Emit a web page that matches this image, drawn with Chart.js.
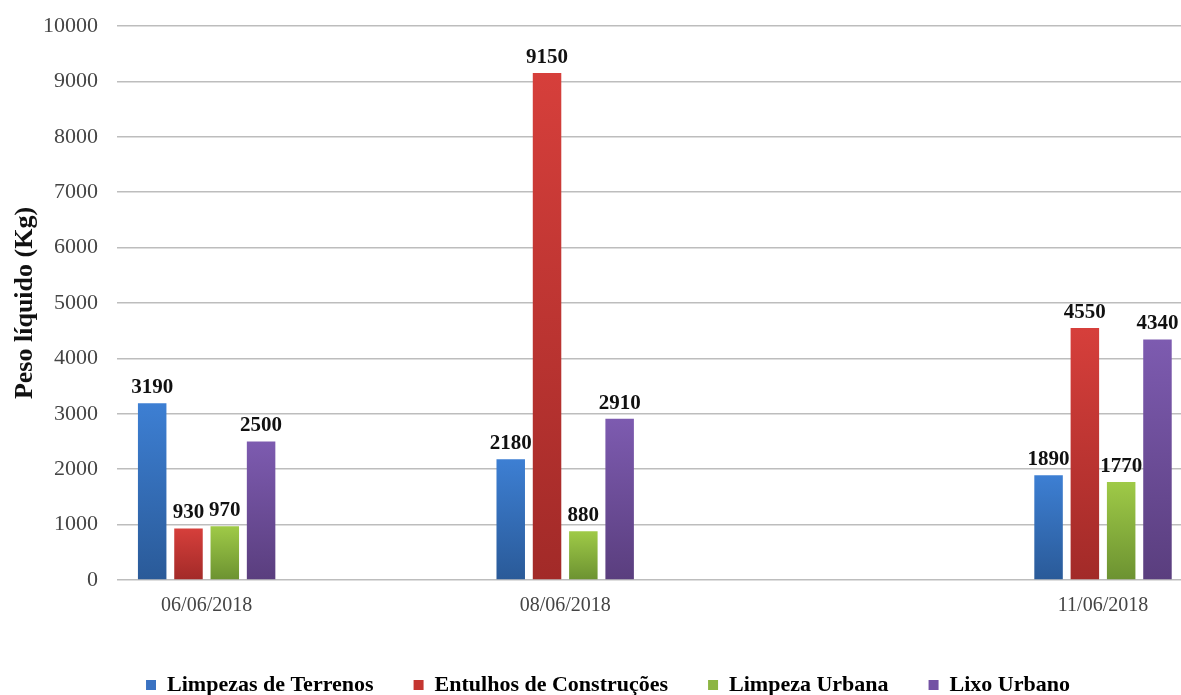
<!DOCTYPE html>
<html>
<head>
<meta charset="utf-8">
<script src="https://cdn.jsdelivr.net/npm/chart.js@4.4.1/dist/chart.umd.min.js"></script>
<style>
  html, body { margin: 0; padding: 0; background: #ffffff; }
  #wrap { width: 1181px; height: 695px; }
</style>
</head>
<body>
<div id="wrap"><canvas id="c" width="1181" height="695"></canvas></div>
<script>
// ---- Data ----
const dates = ['06/06/2018', '08/06/2018', '11/06/2018'];
const seriesNames = ['Limpezas de Terrenos', 'Entulhos de Construções', 'Limpeza Urbana', 'Lixo Urbano'];
const limpezasTerrenos = [3190, 2180, 1890];
const entulhosConstrucoes = [930, 9150, 4550];
const limpezaUrbana = [970, 880, 1770];
const lixoUrbano = [2500, 2910, 4340];
const yTicks = [0, 1000, 2000, 3000, 4000, 5000, 6000, 7000, 8000, 9000, 10000];

// ---- Styles ----
const topColors = ['#3d7fd3', '#d63f3b', '#9fca47', '#7d5bb0'];
const bottomColors = ['#2a5a98', '#a22a28', '#6c9231', '#5a3e7e'];
const legendColors = ['#3a72c2', '#c43631', '#8cb542', '#7352a4'];
const SERIF = '"Liberation Serif", "Times New Roman", serif';
const PAD_LEFT = 11;

const dayOf = d => parseInt(d.slice(0, 2), 10);
const days = dates.map(dayOf);
const allSeries = [limpezasTerrenos, entulhosConstrucoes, limpezaUrbana, lixoUrbano];

function gradFill(i) {
  return function (ctx) {
    const chart = ctx.chart;
    const area = chart.chartArea;
    if (!area || ctx.type !== 'data') return legendColors[i];
    const y = chart.scales.y;
    const v = ctx.raw && typeof ctx.raw === 'object' ? ctx.raw.y : ctx.raw;
    const yTop = y.getPixelForValue(v);
    const yBot = y.getPixelForValue(0);
    if (!isFinite(yTop) || yBot - yTop < 1) return legendColors[i];
    const g = chart.ctx.createLinearGradient(0, yTop, 0, yBot);
    g.addColorStop(0, topColors[i]);
    g.addColorStop(1, bottomColors[i]);
    return g;
  };
}

const datasets = allSeries.map((vals, i) => ({
  label: seriesNames[i],
  data: vals.map((v, k) => ({ x: days[k], y: v })),
  backgroundColor: gradFill(i),
  borderWidth: 0,
  categoryPercentage: 0.405,
  barPercentage: 0.785
}));

const valueLabels = {
  id: 'valueLabels',
  afterDatasetsDraw(chart) {
    const ctx = chart.ctx;
    ctx.save();
    ctx.font = 'bold 21px ' + SERIF;
    ctx.fillStyle = '#111111';
    ctx.textAlign = 'center';
    ctx.textBaseline = 'bottom';
    chart.data.datasets.forEach((ds, i) => {
      const meta = chart.getDatasetMeta(i);
      meta.data.forEach((el, k) => {
        ctx.fillText(String(ds.data[k].y), el.x, el.y - 5);
      });
    });
    ctx.restore();
  }
};

const legendTweak = {
  id: 'legendTweak',
  beforeInit(chart) {
    const lg = chart.legend;
    if (!lg) return;
    const orig = lg.fit.bind(lg);
    lg.fit = function () {
      orig();
      this.height = 61;
    };
  },
  afterLayout(chart) {
    const lg = chart.legend;
    if (!lg) return;
    lg.left += 12;
    lg.right += 12;
  }
};

new Chart(document.getElementById('c'), {
  type: 'bar',
  data: { datasets },
  plugins: [valueLabels, legendTweak],
  options: {
    responsive: false,
    animation: false,
    layout: { padding: { left: PAD_LEFT, top: 26, right: 0, bottom: 0 } },
    plugins: {
      tooltip: { enabled: false },
      legend: {
        position: 'bottom',
        labels: {
          boxWidth: 10,
          boxHeight: 10,
          padding: 40,
          color: '#111111',
          font: { family: SERIF, size: 22, weight: 'bold' },
          generateLabels(chart) {
            return chart.data.datasets.map((ds, i) => ({
              text: ds.label,
              fillStyle: legendColors[i],
              strokeStyle: legendColors[i],
              lineWidth: 0,
              hidden: false,
              datasetIndex: i
            }));
          }
        }
      }
    },
    scales: {
      x: {
        type: 'linear',
        offset: false,
        min: 5.5,
        max: 11.435,
        grid: { display: false },
        border: { display: false },
        afterBuildTicks(scale) {
          scale.ticks = days.map(d => ({ value: d }));
        },
        afterFit(scale) { scale.height = 54; },
        ticks: {
          padding: 6,
          color: '#444444',
          autoSkip: false,
          maxRotation: 0,
          font: { family: SERIF, size: 20 },
          callback(v) {
            const idx = days.indexOf(v);
            return idx >= 0 ? dates[idx] : '';
          }
        }
      },
      y: {
        min: 0,
        max: 10000,
        afterBuildTicks(scale) {
          scale.ticks = yTicks.map(v => ({ value: v }));
        },
        afterFit(scale) {
          scale.width = 117 - PAD_LEFT;
          scale.paddingTop = 0;
          scale.paddingBottom = 0;
        },
        grid: { color: '#bdbdbd', lineWidth: 1.5, drawTicks: false },
        border: { display: false },
        ticks: {
          padding: 19,
          color: '#444444',
          font: { family: SERIF, size: 22 },
          callback(v) { return String(v); }
        },
        title: {
          display: true,
          text: 'Peso líquido (Kg)',
          color: '#111111',
          padding: { top: 0, bottom: 0 },
          font: { family: SERIF, size: 26, weight: 'bold', lineHeight: 1.1 }
        }
      }
    }
  }
});
</script>
</body>
</html>
